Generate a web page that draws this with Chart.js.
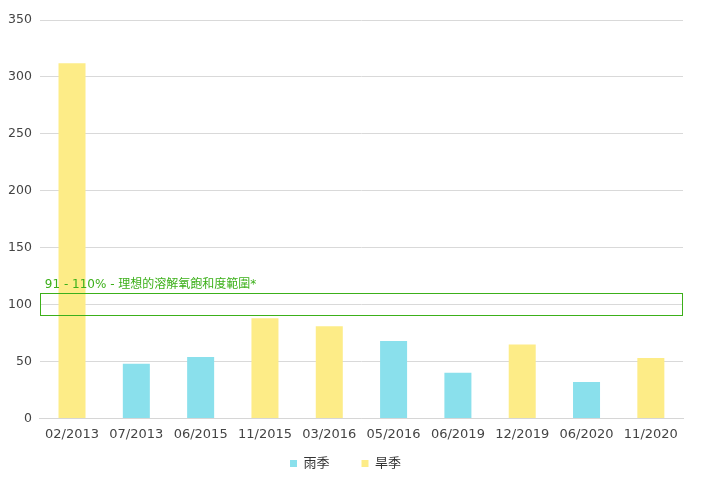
<!DOCTYPE html>
<html>
<head>
<meta charset="utf-8">
<script src="https://cdn.jsdelivr.net/npm/chart.js@4"></script>
<style>
  html, body { margin: 0; padding: 0; background: #fff; }
  #wrap { width: 702px; height: 498px; }
</style>
</head>
<body>
<div id="wrap"><canvas id="doChart"></canvas></div>
<script>
// data
const labels = ["02/2013", "07/2013", "06/2015", "11/2015", "03/2016", "05/2016", "06/2019", "12/2019", "06/2020", "11/2020"];
const rainy = [null, 48, 54, null, null, 68, 40, null, 32, null];
const dry = [312, null, null, 88, 81, null, null, 65, null, 53];
const bandLow = 91;
const bandHigh = 110;
const bandLabel = "91 - 110% - 理想的溶解氧飽和度範圍*";
const yTicks = [0, 50, 100, 150, 200, 250, 300, 350];

const FONT = "'DejaVu Sans', 'Noto Sans CJK TC', sans-serif";

// draws the ideal range box (no annotation plugin available)
const bandPlugin = {
    id: 'band',
    afterInit(chart) {
        // legend: wide gaps between items but tighter vertical space
        const lg = chart.legend;
        const fit = lg.fit;
        lg.fit = function () { fit.call(this); this.height -= 7; };
        const draw = lg.draw;
        lg.draw = function (area) {
            const ctx = this.ctx;
            ctx.save();
            ctx.translate(4, -25);
            draw.call(this, area);
            ctx.restore();
        };
    },
    afterDatasetsDraw(chart) {
        const ctx = chart.ctx;
        const area = chart.chartArea;
        const y = chart.scales.y;
        const top = y.getPixelForValue(bandHigh);
        const bottom = y.getPixelForValue(bandLow);
        ctx.save();
        ctx.strokeStyle = '#3cb01a';
        ctx.lineWidth = 1;
        ctx.strokeRect(Math.round(area.left) + 0.5, Math.round(top) + 0.5, Math.round(area.right - area.left) - 1, Math.round(bottom - top));
        ctx.fillStyle = '#3cb01a';
        ctx.font = "12px " + FONT;
        ctx.textBaseline = 'bottom';
        ctx.fillText(bandLabel, area.left + 5, top - 2);
        ctx.restore();
    }
};

new Chart(document.getElementById("doChart"), {
    type: 'bar',
    data: {
        labels: labels,
        datasets: [
            { label: "雨季", data: rainy, backgroundColor: '#8ae0ec' },
            { label: "旱季", data: dry, backgroundColor: '#fdec87' }
        ]
    },
    plugins: [bandPlugin],
    options: {
        responsive: true,
        maintainAspectRatio: false,
        animation: false,
        skipNull: true,
        datasets: { bar: { categoryPercentage: 0.8, barPercentage: 0.525 } },
        layout: { padding: { top: 20, right: 19, left: 0, bottom: 0 } },
        plugins: {
            legend: {
                position: 'bottom',
                labels: {
                    usePointStyle: true,
                    pointStyle: 'rect',
                    boxWidth: 7,
                    boxHeight: 7,
                    padding: 32,
                    color: '#333',
                    font: { family: FONT, size: 13 }
                }
            },
            tooltip: { enabled: false }
        },
        scales: {
            x: {
                grid: { display: false, drawTicks: false },
                border: { color: '#d6d6d6' },
                ticks: { color: '#444', padding: 8, font: { family: FONT, size: 13 } }
            },
            y: {
                min: 0,
                max: 350,
                afterBuildTicks: (axis) => { axis.ticks = yTicks.map(v => ({ value: v })); },
                grid: { color: '#d9d9d9', drawTicks: false },
                border: { display: false },
                ticks: { color: '#444', padding: 8, font: { family: FONT, size: 12.5 } }
            }
        }
    }
});
</script>
</body>
</html>
